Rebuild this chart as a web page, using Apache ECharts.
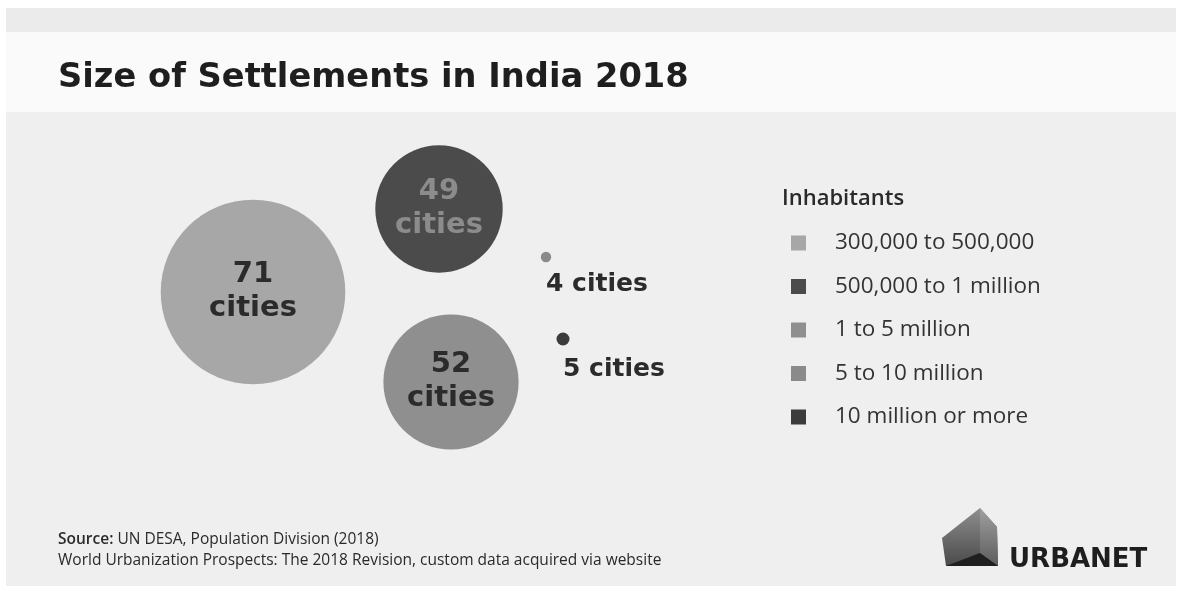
<!DOCTYPE html>
<html>
<head>
<meta charset="utf-8">
<style>
  html, body { margin: 0; padding: 0; background: #ffffff; }
  #chart { width: 1181px; height: 589px; }
</style>
<script src="https://cdn.jsdelivr.net/npm/echarts@6/dist/echarts.min.js"></script>
</head>
<body>
<div id="chart"></div>
<script>
// Settlement size classes (legend) and number of cities in each class
const categories = [
  '300,000 to 500,000',
  '500,000 to 1 million',
  '1 to 5 million',
  '5 to 10 million',
  '10 million or more'
];
const cityCounts = [71, 49, 52, 4, 5];
const unitLabel = 'cities';

const titleText = 'Size of Settlements in India 2018';
const legendTitle = 'Inhabitants';
const sourceLines = [
  'UN DESA, Population Division (2018)',
  'World Urbanization Prospects: The 2018 Revision, custom data acquired via website'
];
const brandName = 'URBANET';

// ---- presentation ----
const palette = ['#a7a7a7', '#4b4b4b', '#8f8f8f', '#8a8a8a', '#3b3b3b'];
const labelColors = ['#2b2b2b', '#8c8c8c', '#2b2b2b', '#2b2b2b', '#2b2b2b'];
// bubble radius grows linearly with the number of cities
const diameterPerCity = 2.6;
// bubble cluster arrangement on the canvas-sized layout plane
const slots = [[253, 292], [439, 209], [451, 382], [546, 257], [563, 339]];
// small bubbles carry their label below-right instead of inside
const outsideLabel = [false, false, false, true, true];
const labelDrop = [0, 0, 0, 27, 30];

const W = 1181, H = 589;
const chart = echarts.init(document.getElementById('chart'), null, { renderer: 'canvas' });

const series = categories.map((name, i) => {
  const outside = outsideLabel[i];
  return {
    name: name,
    type: 'scatter',
    symbol: 'circle',
    symbolSize: d => d[2] * diameterPerCity,
    itemStyle: { color: palette[i], opacity: 1 },
    emphasis: { disabled: true },
    z: 5,
    label: {
      show: true,
      position: 'inside',
      align: outside ? 'left' : 'center',
      verticalAlign: 'middle',
      offset: outside ? [0, labelDrop[i]] : [0, -1],
      formatter: p => outside ? p.data[2] + ' ' + unitLabel : p.data[2] + '\n' + unitLabel,
      fontFamily: 'DejaVu Sans',
      fontWeight: 'bold',
      fontSize: outside ? 25 : 29,
      lineHeight: 34,
      color: labelColors[i]
    },
    data: [[slots[i][0], slots[i][1], cityCounts[i]]]
  };
});

const option = {
  animation: false,
  backgroundColor: '#ffffff',
  graphic: [
    // panel bands
    { type: 'rect', z: -10, shape: { x: 6, y: 8, width: 1170, height: 578 }, style: { fill: '#efefef' } },
    { type: 'rect', z: -9, shape: { x: 6, y: 8, width: 1170, height: 24 }, style: { fill: '#ebebeb' } },
    { type: 'rect', z: -9, shape: { x: 6, y: 32, width: 1170, height: 80 }, style: { fill: '#fafafa' } },
    // brand mark: house outline
    { type: 'polygon', z: 3,
      shape: { points: [[980, 508], [997, 527], [998, 566], [946, 566], [942, 538]] },
      style: { fill: new echarts.graphic.LinearGradient(0, 0, 0, 1, [
        { offset: 0, color: '#8e8e8e' }, { offset: 1, color: '#4a4a4a' }]) } },
    { type: 'polygon', z: 4,
      shape: { points: [[980, 508], [997, 527], [998, 566], [980, 553]] },
      style: { fill: new echarts.graphic.LinearGradient(0, 0, 0, 1, [
        { offset: 0, color: '#a0a0a0' }, { offset: 1, color: '#5c5c5c' }]) } },
    { type: 'polygon', z: 5,
      shape: { points: [[980, 553], [998, 566], [946, 566]] },
      style: { fill: '#1f1f1f' } },
    { type: 'text', z: 5, left: 1009, top: 547,
      style: { text: brandName, fill: '#1e1e1e', font: 'bold 26px "DejaVu Sans"' } },
    // source notes
    { type: 'text', z: 5, left: 58, top: 532,
      style: {
        text: '{b|Source:} ' + sourceLines[0],
        rich: { b: { fontFamily: 'Open Sans', fontWeight: 600, fontSize: 15.5, fill: '#2a2a2a' } },
        font: '15.5px "Open Sans"', fill: '#2a2a2a' } },
    { type: 'text', z: 5, left: 58, top: 553,
      style: { text: sourceLines[1], font: '15.5px "Open Sans"', fill: '#2a2a2a' } }
  ],
  title: [
    { text: titleText, left: 58, top: 61, padding: 0,
      textStyle: { fontFamily: 'DejaVu Sans', fontWeight: 'bold', fontSize: 33.7, color: '#1e1e1e' } },
    { text: legendTitle, left: 782, top: 188, padding: 0,
      textStyle: { fontFamily: 'Open Sans', fontWeight: 600, fontSize: 22, color: '#2a2a2a' } }
  ],
  legend: {
    orient: 'vertical',
    left: 791,
    top: 231.5,
    padding: 0,
    icon: 'rect',
    itemWidth: 15,
    itemHeight: 15,
    itemGap: 20.5,
    selectedMode: false,
    data: categories,
    textStyle: {
      fontFamily: 'Open Sans',
      fontSize: 22.5,
      lineHeight: 22,
      color: '#333333',
      padding: [0, 0, 0, 24]
    }
  },
  grid: { left: 0, top: 0, right: 0, bottom: 0 },
  xAxis: { type: 'value', min: 0, max: W, show: false },
  yAxis: { type: 'value', min: 0, max: H, inverse: true, show: false },
  series: series
};

chart.setOption(option);
</script>
</body>
</html>
